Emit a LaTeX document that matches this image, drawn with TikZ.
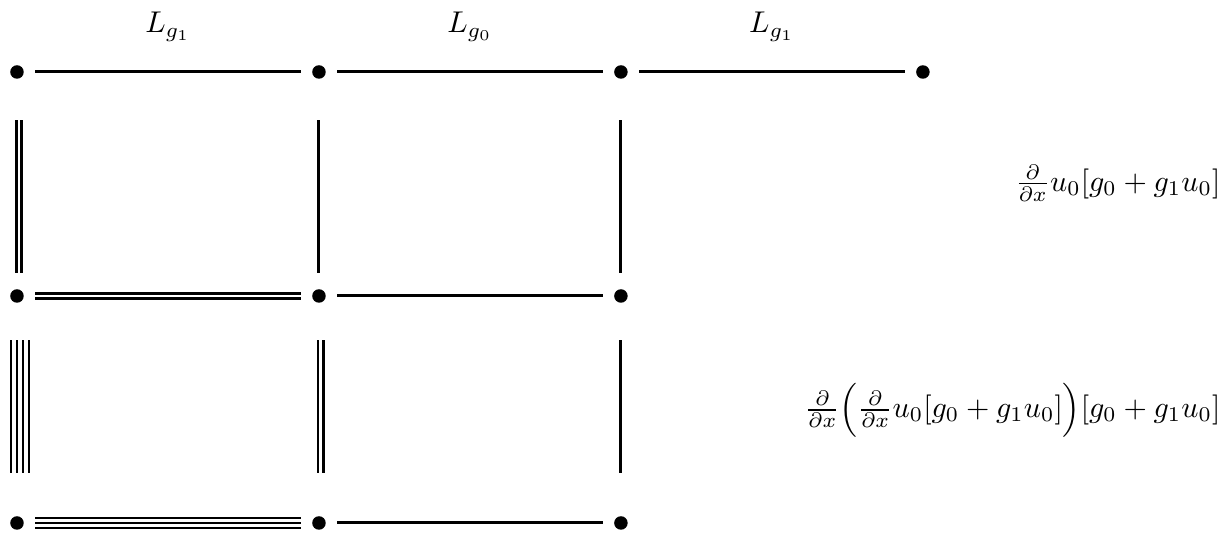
\documentclass[tikz,border=0pt]{standalone}
\usepackage{amsmath}
\usetikzlibrary{positioning}
\tikzset{
  dot/.style={circle, fill, inner sep=0pt, minimum size=4.5pt, outer sep=3.8pt},
  bond/.style={line width=1pt},
  thinbond/.style={line width=0.75pt},
  formula/.style={anchor=east, inner sep=0pt}
}
\begin{document}
\begin{tikzpicture}[node distance=2.623cm and 3.536cm, on grid]
  \useasboundingbox (0,0) rectangle (14.415,6.241);

  % grid of points
  \node[dot] (a1) at (0.199,5.398) {};
  \node[dot, right=of a1] (a2) {};
  \node[dot, right=of a2] (a3) {};
  \node[dot, right=of a3] (a4) {};
  \node[dot, below=of a1] (b1) {};
  \node[dot, below=of a2] (b2) {};
  \node[dot, below=of a3] (b3) {};
  \node[dot, below=2.658cm of b1] (c1) {};
  \node[dot, below=2.658cm of b2] (c2) {};
  \node[dot, below=2.658cm of b3] (c3) {};

  % top row
  \draw[bond] (a1) -- node[above=6.3pt] (lga) {$L_{g_1}$} (a2);
  \draw[bond] (a2) -- node[above=6.3pt] (lgb) {$L_{g_0}$} (a3);
  \draw[bond] (a3) -- node[above=6.3pt] (lgc) {$L_{g_1}$} (a4);

  % first step
  \foreach \s in {-0.2pt,1.5pt}
    \draw[thinbond, transform canvas={xshift=\s}, shorten <=10pt, shorten >=1.7pt] (a1) -- (b1);
  \draw[bond, shorten <=10pt, shorten >=1.7pt] (a2) -- (b2);
  \draw[bond, shorten <=10pt, shorten >=1.7pt] (a3) -- (b3);
  \foreach \s in {-0.8pt,0.8pt}
    \draw[thinbond, transform canvas={yshift=\s}] (b1) -- (b2);
  \draw[bond] (b2) -- (b3);

  % second step
  \foreach \s in {-2pt,0pt,2pt,4pt}
    \draw[thinbond, transform canvas={xshift=\s}, shorten <=8.7pt, shorten >=10.7pt] (b1) -- (c1);
  \foreach \s in {-0.2pt,1.5pt}
    \draw[thinbond, transform canvas={xshift=\s}, shorten <=8.7pt, shorten >=10.7pt] (b2) -- (c2);
  \draw[bond, shorten <=8.7pt, shorten >=10.7pt] (b3) -- (c3);
  \foreach \s in {-1.7pt,0pt,1.7pt}
    \draw[thinbond, transform canvas={yshift=\s}] (c1) -- (c2);
  \draw[bond] (c2) -- (c3);

  % derivatives
  \node[formula] (da) at (14.297,4.098) {$\frac{\partial}{\partial x}u_0[g_0+g_1u_0]$};
  \node[formula] (db) at (14.297,1.440)
    {$\frac{\partial}{\partial x}\Big(\frac{\partial}{\partial x}u_0[g_0+g_1u_0]\Big)[g_0+g_1u_0]$};
\end{tikzpicture}
\end{document}
